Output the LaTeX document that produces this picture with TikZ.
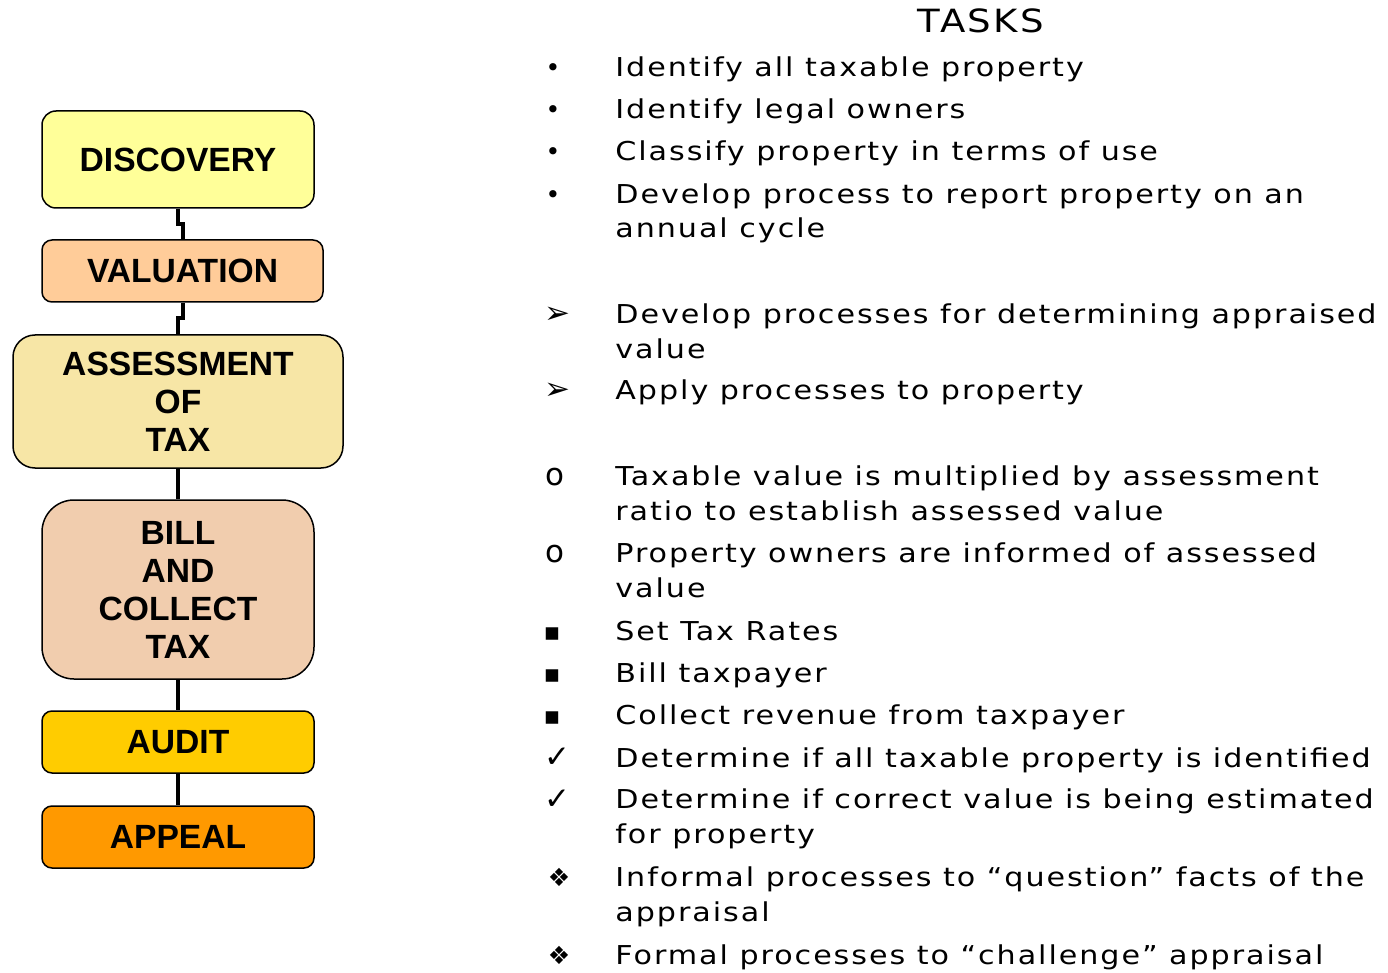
\documentclass[tikz,border=0pt]{standalone}
\usepackage{fontspec}
\usepackage{tikz}
\usetikzlibrary{positioning, calc}
\newfontfamily\stagefont{Liberation Sans}
\newfontfamily\taskfont[LetterSpace=7.5, FakeStretch=1.16]{DejaVu Sans}
\newfontfamily\bulfont{DejaVu Sans}
\definecolor{discfill}{HTML}{FFFF99}
\definecolor{valfill}{HTML}{FFCC99}
\definecolor{assessfill}{HTML}{F7E6A6}
\definecolor{billfill}{HTML}{F1CDAE}
\definecolor{auditfill}{HTML}{FFCC00}
\definecolor{appealfill}{HTML}{FF9900}
\tikzset{
  stagebox/.style={draw=black, line width=0.75pt, align=center, inner sep=0pt,
    font=\stagefont\bfseries\fontsize{16.8}{19}\selectfont},
  link/.style={draw=black, line width=2pt},
  bul/.style={anchor=base, inner sep=0pt, font=\bulfont\fontsize{12.5}{17.25}\selectfont},
  bigbul/.style={bul, font=\bulfont\fontsize{15.5}{17.25}\selectfont},
  task/.style={anchor=base west, inner sep=0pt, align=left, font=\taskfont\fontsize{13}{17.25}\selectfont}
}

\begin{document}
\begin{tikzpicture}[x=0.5pt, y=-0.5pt]
  \useasboundingbox[fill=white] (0,0) rectangle (1388,973);

  % stages
  \node[stagebox, fill=discfill, rounded corners=7pt, minimum width=136pt, minimum height=48.5pt]
    (disc) at (178,159.5) {DISCOVERY};
  \node[stagebox, fill=valfill, rounded corners=5pt, minimum width=140.5pt, minimum height=31pt]
    (val) at (182.5,271) {VALUATION};
  \node[stagebox, fill=assessfill, rounded corners=11pt, minimum width=165pt, minimum height=66.5pt]
    (assess) at (178,401.5) {ASSESSMENT\\OF\\TAX};
  \node[stagebox, fill=billfill, rounded corners=16pt, minimum width=136pt, minimum height=89.5pt]
    (bill) at (178,589.5) {BILL\\AND\\COLLECT\\TAX};
  \node[stagebox, fill=auditfill, rounded corners=5pt, minimum width=136pt, minimum height=31pt]
    (audit) at (178,742) {AUDIT};
  \node[stagebox, fill=appealfill, rounded corners=5pt, minimum width=136pt, minimum height=31pt]
    (appeal) at (178,837) {APPEAL};

  % links
  \draw[link] (disc.south) |- ($(disc.south)!0.5!(val.north)$) -| (val.north);
  \draw[link] (val.south) |- ($(val.south)!0.5!(assess.north)$) -| (assess.north);
  \draw[link] (assess) -- (bill);
  \draw[link] (bill) -- (audit);
  \draw[link] (audit) -- (appeal);

  % tasks (base anchor = last line)
  \node[anchor=base, inner sep=0pt, font=\taskfont\fontsize{16}{18}\selectfont] (title) at (981,33) {TASKS};

  \node[bul] (b1) at (553,77) {•};
  \node[task] (t1) at (615,77) {Identify all taxable property};
  \node[bul] (b2) at (553,119) {•};
  \node[task] (t2) at (615,119) {Identify legal owners};
  \node[bul] (b3) at (553,161) {•};
  \node[task] (t3) at (615,161) {Classify property in terms of use};
  \node[bul] (b4) at (553,204) {•};
  \node[task] (t4) at (615,238) {Develop process to report property on an\\annual cycle};

  \node[bigbul] (b5) at (557,324) {➢};
  \node[task] (t5) at (615,358) {Develop processes for determining appraised\\value};
  \node[bigbul] (b6) at (557,400) {➢};
  \node[task] (t6) at (615,400) {Apply processes to property};

  \node[bigbul] (b7) at (555,486) {o};
  \node[task] (t7) at (615,520) {Taxable value is multiplied by assessment\\ratio to establish assessed value};
  \node[bigbul] (b8) at (555,562) {o};
  \node[task] (t8) at (615,597) {Property owners are informed of assessed\\value};
  \node[bul] (b9) at (552,640) {▪};
  \node[task] (t9) at (615,640) {Set Tax Rates};
  \node[bul] (b10) at (552,682) {▪};
  \node[task] (t10) at (615,682) {Bill taxpayer};
  \node[bul] (b11) at (552,724) {▪};
  \node[task] (t11) at (615,724) {Collect revenue from taxpayer};
  \node[bigbul] (b12) at (557,767) {✓};
  \node[task] (t12) at (615,767) {Determine if all taxable property is identified};
  \node[bigbul] (b13) at (557,809) {✓};
  \node[task] (t13) at (615,843) {Determine if correct value is being estimated\\for property};
  \node[bul] (b14) at (559,886) {❖};
  \node[task] (t14) at (615,921) {Informal processes to “question” facts of the\\appraisal};
  \node[bul] (b15) at (559,964) {❖};
  \node[task] (t15) at (615,964) {Formal processes to “challenge” appraisal};
\end{tikzpicture}
\end{document}
